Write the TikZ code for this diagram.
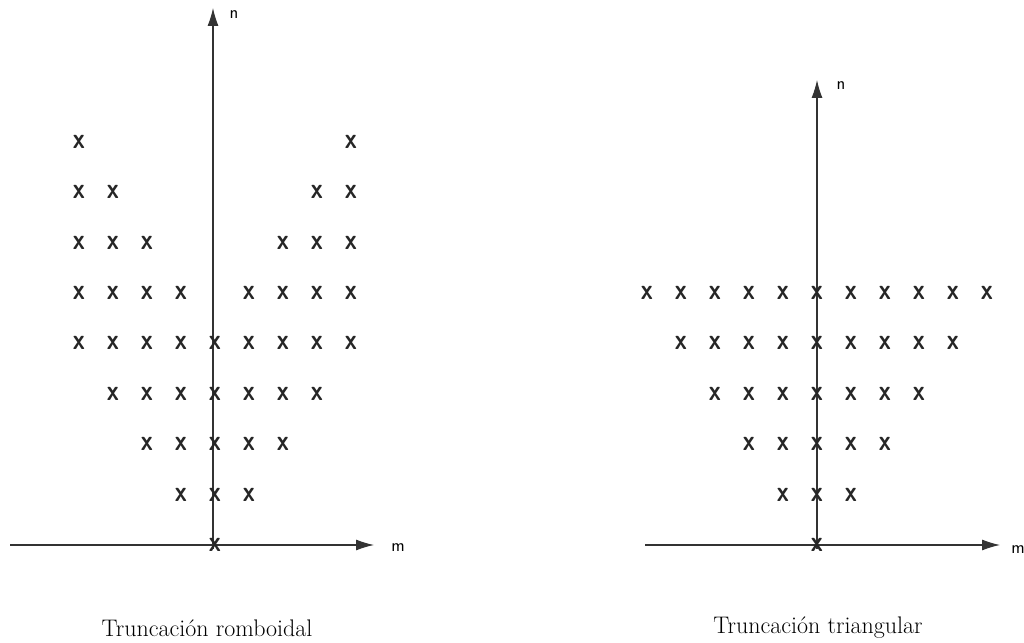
\documentclass[tikz,border=0pt]{standalone}
\usepackage{fontspec}
\usepackage{tikz}
\usetikzlibrary{arrows.meta}

\tikzset{
  cruz/.style={inner sep=0pt, text=black!85, font=\fontsize{23}{23}\sffamily\bfseries},
  eje/.style={line width=1.1pt, black!80, -{Latex[length=18pt,width=11pt]}},
  etiq/.style={inner sep=0pt, font=\fontsize{18}{18}\sffamily},
  titulo/.style={inner sep=0pt, font=\fontsize{24}{27}\selectfont}
}
\newcommand{\cruzx}{\scalebox{1.05}[1.25]{x}}

\begin{document}
\begin{tikzpicture}[x=1pt,y=1pt]
\useasboundingbox (0,0) rectangle (1024,642);

% truncacion romboidal
\coordinate (v1a) at (213,93);
\coordinate (v1b) at (213,634);
\coordinate (h1a) at (10,97);
\coordinate (h1b) at (374,97);
\draw[eje] (v1a) -- (v1b);
\draw[eje] (h1a) -- (h1b);
\node[etiq] (n1) at (234,627) {n};
\node[etiq] (m1) at (398,94) {m};
\foreach \n in {0,...,8}
  \foreach \m in {-4,...,4} {
    \pgfmathparse{(abs(\m)<=\n && abs(\m)>=\n-4) ? 1 : 0}
    \ifnum\pgfmathresult=1
      \node[cruz] (r\m\n) at (215+34*\m, 97+50.4*\n) {\cruzx};
    \fi
  }
\node[titulo] (t1) at (207,14) {Truncación romboidal};

% truncacion triangular
\coordinate (v2a) at (817,93);
\coordinate (v2b) at (817,562);
\coordinate (h2a) at (645,97);
\coordinate (h2b) at (1000,97);
\draw[eje] (v2a) -- (v2b);
\draw[eje] (h2a) -- (h2b);
\node[etiq] (n2) at (841,556) {n};
\node[etiq] (m2) at (1018,92) {m};
\foreach \n in {0,...,5}
  \foreach \m in {-5,...,5} {
    \pgfmathparse{(abs(\m)<=\n) ? 1 : 0}
    \ifnum\pgfmathresult=1
      \node[cruz] (t\m\n) at (817+34*\m, 97+50.4*\n) {\cruzx};
    \fi
  }
\node[titulo] (t2) at (818,14) {Truncación triangular};
\end{tikzpicture}
\end{document}
